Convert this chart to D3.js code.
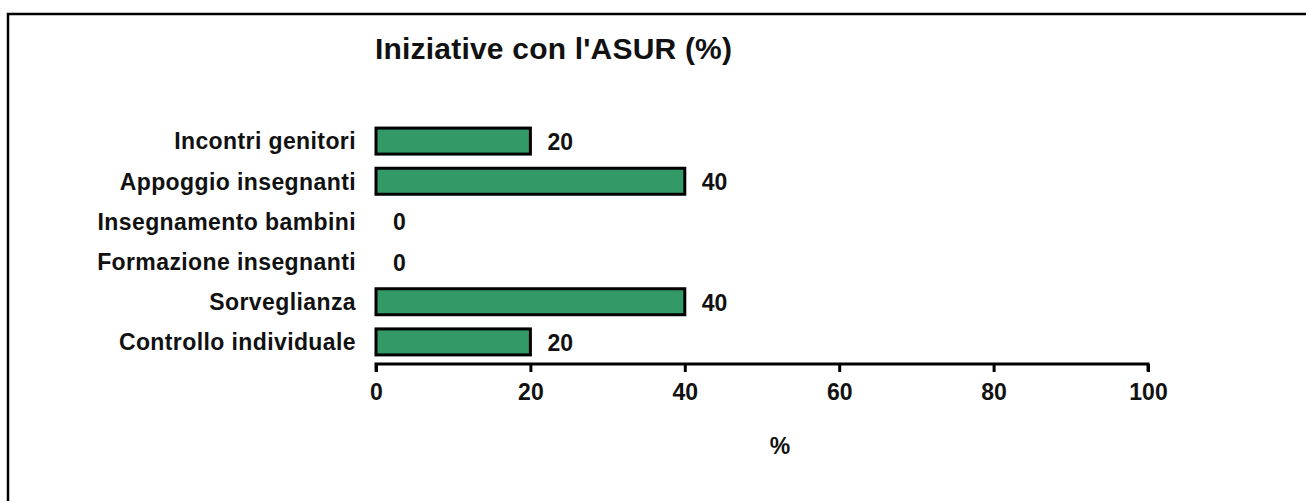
<!DOCTYPE html>
<html><head><meta charset="utf-8">
<script src="https://cdn.jsdelivr.net/npm/d3@7"></script>
<style>html,body{margin:0;padding:0;background:#fff}svg{display:block}</style>
</head><body>
<svg id="c" width="1306" height="501"></svg>
<script>
const categories = ["Incontri genitori","Appoggio insegnanti","Insegnamento bambini","Formazione insegnanti","Sorveglianza","Controllo individuale"];
const values = [20,40,0,0,40,20];
const xTicks = [0,20,40,60,80,100];
const title = "Iniziative con l'ASUR (%)";
const xTitle = "%";

const svg = d3.select("#c");
const font = "'Liberation Sans', Arial, sans-serif";

// frame
svg.append("rect").attr("x",8).attr("y",14).attr("width",1320).attr("height",520)
  .attr("fill","none").attr("stroke","#000").attr("stroke-width",2.5);

const x = d3.scaleLinear().domain([0,100]).range([376,1148]);
const pIn = 1 - 26/40.17;
const y = d3.scaleBand().domain(categories).range([121,362]).paddingInner(pIn).paddingOuter(pIn/2);

svg.append("text").attr("x",375).attr("y",59).text(title)
  .attr("font-family",font).attr("font-weight","bold").attr("font-size",30).attr("letter-spacing","0.2px").attr("fill","#111");

// bars
const rows = categories.map((c,i)=>({c, v: values[i]}));
svg.selectAll("rect.bar").data(rows.filter(d=>d.v>0)).join("rect").attr("class","bar")
  .attr("x",x(0)).attr("y",d=>y(d.c)).attr("width",d=>x(d.v)-x(0)).attr("height",y.bandwidth())
  .attr("fill","#339966").attr("stroke","#000").attr("stroke-width",3);

// value labels
svg.selectAll("text.val").data(rows).join("text").attr("class","val")
  .attr("x",d=>x(d.v)+17).attr("y",d=>y(d.c)+y.bandwidth()/2+9)
  .text(d=>d.v).attr("font-family",font).attr("font-weight","bold").attr("font-size",23).attr("fill","#111");

// category labels
const yAxis = d3.axisLeft(y).tickSize(0).tickPadding(0);
const ya = svg.append("g").attr("transform","translate(356,0)").call(yAxis);
ya.select(".domain").remove();
ya.selectAll("text").attr("font-family",font).attr("font-weight","bold").attr("font-size",23)
  .attr("fill","#111").attr("letter-spacing","0.4px").attr("dy","0.36em");

// x axis
const xAxis = d3.axisBottom(x).tickValues(xTicks).tickSize(8).tickPadding(12).tickFormat(d3.format("d"));
const xa = svg.append("g").attr("transform","translate(0,364)").call(xAxis);
xa.select(".domain").attr("stroke","#000").attr("stroke-width",3).attr("d",`M${x(0)},7.5V0H${x(100)}V7.5`);
xa.selectAll(".tick line").attr("stroke","#000").attr("stroke-width",3);
xa.selectAll(".tick text").attr("font-family",font).attr("font-weight","bold").attr("font-size",23).attr("fill","#111");

svg.append("text").attr("x",780).attr("y",454).attr("text-anchor","middle").text(xTitle)
  .attr("font-family",font).attr("font-weight","bold").attr("font-size",23).attr("fill","#111");
</script>
</body></html>
